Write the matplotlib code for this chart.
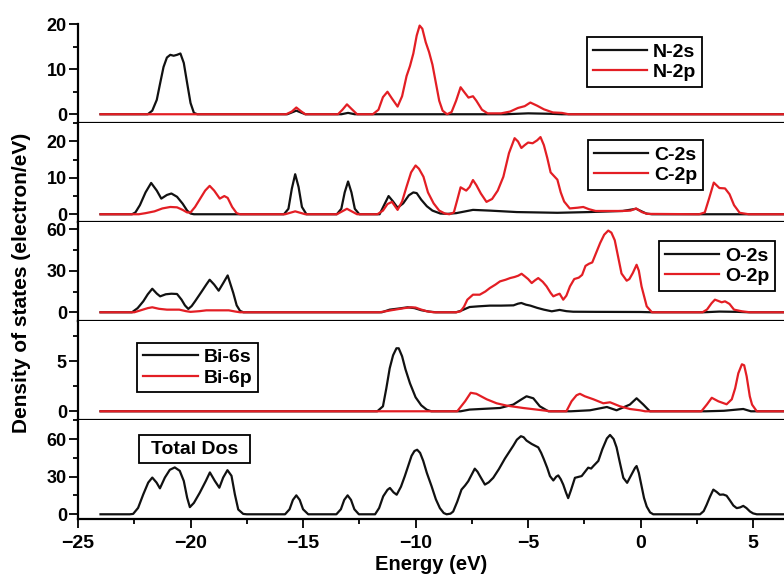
import matplotlib
matplotlib.use('Agg')
import matplotlib.pyplot as plt
from matplotlib.patches import Rectangle
from matplotlib.ticker import MultipleLocator

plt.rcParams['font.family'] = ['Liberation Sans', 'DejaVu Sans']
plt.rcParams['font.weight'] = 'bold'

BLACK = '#111111'
RED = '#e31e24'

# ---- N partial DOS ----
n2s_e = [-24.0, -21.9, -21.7, -21.5, -21.35, -21.2, -21.05, -20.9, -20.75, -20.6, -20.45, -20.3, -20.15,
         -20.0, -19.85, -19.7, -15.7, -15.3, -14.9, -13.3, -13.0, -12.7, -6.0, -5.0, -4.0, -3.5, 7.0]
n2s_v = [0, 0, 0.8, 3.2, 6.9, 10.5, 12.6, 13.2, 13.0, 13.2, 13.5, 11.4, 6.9,
         2.5, 0.3, 0, 0, 0.8, 0, 0, 0.3, 0, 0, 0.2, 0.1, 0, 0]

n2p_e = [-24.0, -15.75, -15.5, -15.3, -15.1, -14.9, -13.45, -13.25, -13.05, -12.85, -12.6, -11.9, -11.65,
         -11.45, -11.25, -11.05, -10.8, -10.6, -10.4, -10.25, -10.1, -9.95, -9.82, -9.7, -9.55, -9.4,
         -9.25, -9.1, -8.95, -8.8, -8.6, -8.4, -8.2, -8.0, -7.85, -7.65, -7.45, -7.3, -7.05, -6.8, -6.2,
         -5.8, -5.45, -5.15, -4.9, -4.6, -4.3, -3.9, -3.5, -3.2, 7.0]
n2p_v = [0, 0, 0.6, 1.5, 0.7, 0, 0, 1.0, 2.2, 1.2, 0, 0, 1.0,
         3.8, 5.0, 3.5, 1.7, 4.0, 8.5, 10.7, 13.5, 17.5, 19.7, 19.0, 16.0, 13.8,
         11.0, 7.0, 3.0, 0.8, 0, 0.5, 3.0, 6.0, 5.0, 3.7, 4.0, 3.0, 1.0, 0.2, 0.2,
         0.6, 1.4, 1.8, 2.6, 1.9, 1.1, 0.4, 0.3, 0, 0]

# ---- C partial DOS ----
c2s_e = [-24.0, -22.6, -22.45, -22.25, -22.0, -21.75, -21.5, -21.3, -21.05, -20.85, -20.6, -20.35, -20.15,
         -20.0, -19.85, -15.85, -15.65, -15.5, -15.35, -15.2, -15.05, -14.85, -13.5, -13.3, -13.15, -13.0,
         -12.85, -12.7, -12.5, -11.6, -11.4, -11.2, -11.0, -10.8, -10.55, -10.3, -10.1, -9.95, -9.75,
         -9.5, -9.25, -8.9, -8.6, -8.2, -7.45, -6.7, -5.5, -3.7, -2.3, -0.8, -0.2, 0.25, 0.5, 7.0]
c2s_v = [0, 0, 0.5, 2.5, 6.0, 8.6, 6.5, 4.3, 5.3, 5.7, 4.8, 2.9, 1.0,
         0.2, 0, 0, 1.5, 7.0, 11.0, 7.5, 2.0, 0, 0, 1.5, 6.0, 9.0,
         6.0, 1.5, 0, 0, 2.5, 5.0, 3.5, 1.8, 3.0, 5.2, 6.0, 5.8, 4.0,
         2.2, 1.0, 0.2, 0.1, 0.3, 1.2, 1.0, 0.6, 0.4, 0.6, 0.9, 1.5, 0.2, 0, 0]

c2p_e = [-24.0, -22.3, -22.0, -21.6, -21.25, -20.9, -20.6, -20.35, -20.15, -20.0, -19.8, -19.6, -19.35,
         -19.15, -18.95, -18.7, -18.5, -18.35, -18.15, -17.95, -17.8, -15.8, -15.35, -14.9, -13.5, -13.05,
         -12.6, -11.7, -11.45, -11.25, -11.05, -10.8, -10.6, -10.4, -10.2, -10.0, -9.85, -9.65, -9.45,
         -9.2, -8.95, -8.7, -8.5, -8.3, -8.15, -8.0, -7.75, -7.6, -7.45, -7.3, -7.1, -6.85, -6.6, -6.35,
         -6.1, -5.85, -5.6, -5.45, -5.3, -5.15, -5.0, -4.8, -4.6, -4.45, -4.3, -4.15, -4.0, -3.85, -3.7,
         -3.55, -3.4, -3.15, -2.8, -2.55, -2.3, -2.0, -1.4, -0.8, -0.45, -0.2, 0.05, 0.3, 2.6, 2.85,
         3.05, 3.25, 3.5, 3.75, 3.95, 4.15, 4.4, 4.8, 7.0]
c2p_v = [0, 0, 0.3, 0.8, 1.6, 2.0, 1.9, 1.2, 0.5, 0.5, 2.0, 4.0, 6.5,
         7.8, 6.5, 4.3, 5.0, 4.5, 2.0, 0.3, 0, 0, 0.8, 0, 0, 1.5,
         0, 0, 1.0, 2.8, 3.4, 1.2, 3.5, 7.6, 11.5, 13.4, 12.5, 10.3, 6.0,
         3.0, 1.0, 0.2, 0, 0.5, 3.9, 7.4, 6.5, 7.5, 9.4, 8.0, 5.7, 3.4, 4.2, 6.5,
         10.3, 16.8, 20.9, 20.0, 18.2, 19.0, 19.7, 19.5, 20.3, 21.2, 19.0, 15.5, 11.5, 10.5, 9.5,
         6.0, 3.5, 1.6, 1.8, 2.0, 1.4, 0.9, 0.9, 0.9, 1.0, 1.6, 0.6, 0.1, 0, 0.5,
         4.5, 8.7, 7.2, 7.1, 5.5, 2.5, 0.4, 0, 0]

# ---- O partial DOS ----
o2s_e = [-24.0, -22.6, -22.35, -22.1, -21.9, -21.7, -21.5, -21.35, -21.1, -20.85, -20.6, -20.4, -20.25,
         -20.1, -19.95, -19.8, -19.5, -19.3, -19.15, -18.95, -18.75, -18.55, -18.35, -18.2, -18.1, -17.95,
         -17.8, -17.65, -11.5, -11.15, -10.7, -10.35, -10.05, -9.75, -9.4, -9.1, -8.2, -8.0, -7.6, -7.2,
         -6.7, -6.2, -5.65, -5.45, -5.3, -5.1, -4.9, -4.6, -4.3, -3.95, -3.6, -3.3, -3.0, -2.0, 0.0, 0.5,
         2.8, 3.5, 4.3, 4.8, 7.0]
o2s_v = [0, 0, 3.0, 7.9, 13.0, 17.0, 13.5, 11.5, 13.0, 13.4, 13.2, 9.1, 5.0,
         2.4, 4.5, 7.9, 15.1, 20.0, 23.5, 20.0, 15.6, 21.0, 26.6, 19.0, 13.9, 5.0,
         1.0, 0, 0, 1.9, 2.8, 3.6, 3.0, 1.5, 0.5, 0, 0, 1.0, 3.8, 4.3,
         4.8, 4.8, 5.0, 6.2, 6.7, 5.5, 4.8, 3.2, 1.9, 0.7, 1.7, 0.8, 0.4, 0.3, 0.2, 0,
         0, 0.5, 0.3, 0, 0]

o2p_e = [-24.0, -22.5, -22.2, -21.9, -21.7, -21.4, -21.05, -20.5, -20.2, -20.0, -19.6, -19.3, -18.9,
         -18.3, -18.0, -17.8, -11.6, -11.3, -11.1, -10.8, -10.5, -10.2, -10.0, -9.8, -9.5, -9.2, -8.2,
         -8.0, -7.85, -7.7, -7.45, -7.15, -6.9, -6.7, -6.45, -6.25, -6.0, -5.8, -5.6, -5.44, -5.29, -5.15,
         -5.0, -4.84, -4.7, -4.55, -4.35, -4.18, -4.0, -3.88, -3.75, -3.6, -3.44, -3.3, -3.14, -2.95,
         -2.75, -2.6, -2.45, -2.3, -2.15, -1.95, -1.8, -1.62, -1.44, -1.3, -1.15, -1.0, -0.85, -0.62,
         -0.5, -0.35, -0.18, -0.08, 0.04, 0.27, 0.5, 2.75, 2.95, 3.15, 3.3, 3.45, 3.6, 3.75, 3.95, 4.15,
         4.5, 4.85, 7.0]
o2p_v = [0, 0, 1.5, 3.0, 3.6, 2.5, 1.9, 1.9, 0.8, 0.3, 0.8, 1.4, 1.4,
         1.4, 0.5, 0, 0, 0.8, 1.4, 2.2, 3.0, 3.6, 3.4, 2.2, 0.7, 0, 0,
         0.7, 4.0, 9.1, 12.7, 12.7, 15.0, 17.5, 20.0, 22.3, 23.5, 24.7, 25.5, 26.4, 27.8, 26.0,
         24.0, 21.1, 23.0, 24.7, 22.0, 18.7, 14.0, 11.5, 12.5, 13.4, 9.1, 12.0, 18.7, 24.0,
         25.0, 27.0, 33.5, 35.0, 36.0, 44.0, 50.0, 56.0, 59.0, 57.5, 52.0, 40.0, 28.0, 22.8,
         24.0, 28.3, 34.3, 30.0, 18.7, 4.3, 0, 0, 2.0, 6.5, 9.1, 8.2, 7.2, 7.9, 6.0, 1.9,
         0.7, 0, 0]

# ---- Bi partial DOS ----
bi6s_e = [-24.0, -11.7, -11.45, -11.3, -11.15, -11.0, -10.85, -10.75, -10.6, -10.45, -10.25, -10.0, -9.75,
          -9.5, -9.3, -8.0, -7.6, -6.25, -5.66, -5.29, -5.07, -4.77, -4.48, -4.1, -3.1, -2.25, -1.5,
          -1.07, -0.48, -0.18, 0.12, 0.41, 2.9, 3.7, 4.56, 4.9, 7.0]
bi6s_v = [0, 0, 0.5, 2.3, 4.3, 5.6, 6.3, 6.3, 5.5, 4.2, 2.8, 1.4, 0.6,
          0.15, 0, 0, 0.17, 0.33, 0.67, 1.2, 1.5, 1.3, 0.5, 0, 0, 0.1, 0.43,
          0.1, 0.67, 1.3, 0.67, 0, 0, 0.05, 0.23, 0, 0]

bi6p_e = [-24.0, -8.15, -7.8, -7.55, -7.3, -7.05, -6.84, -6.4, -5.96, -5.22, -4.62, -4.0, -3.3,
          -3.07, -2.85, -2.7, -2.48, -2.1, -1.66, -1.36, -0.92, -0.48, -0.03, 0.2, 2.7, 2.95, 3.16,
          3.45, 3.82, 4.05, 4.2, 4.34, 4.5, 4.6, 4.71, 4.85, 4.95, 5.16, 7.0]
bi6p_v = [0, 0, 1.0, 1.85, 1.75, 1.45, 1.2, 0.8, 0.57, 0.33, 0.17, 0, 0,
          1.0, 1.6, 1.75, 1.5, 1.2, 0.8, 0.9, 0.5, 0.23, 0.1, 0, 0, 0.7, 1.35,
          1.0, 0.7, 1.2, 2.3, 3.8, 4.7, 4.6, 3.5, 1.5, 0.67, 0, 0]

# ---- Total DOS ----
tot_e = [-24.0, -22.7, -22.55, -22.33, -22.1, -21.88, -21.7, -21.51, -21.36, -21.14, -20.92, -20.7, -20.48,
         -20.3, -20.15, -20.03, -19.85, -19.59, -19.32, -19.14, -18.92, -18.72, -18.55, -18.36, -18.18,
         -18.03, -17.88, -17.66, -17.5, -15.8, -15.6, -15.45, -15.3, -15.15, -15.0, -14.77, -13.52, -13.32,
         -13.17, -13.02, -12.87, -12.72, -12.52, -11.8, -11.62, -11.44, -11.25, -11.14, -10.98, -10.84,
         -10.65, -10.48, -10.3, -10.18, -10.05, -9.93, -9.8, -9.66, -9.5, -9.29, -9.1, -8.92, -8.75, -8.62,
         -8.45, -8.33, -8.15, -7.96, -7.8, -7.66, -7.5, -7.37, -7.25, -7.14, -6.92, -6.75, -6.55, -6.3,
         -6.03, -5.85, -5.66, -5.5, -5.32, -5.2, -5.07, -4.84, -4.55, -4.42, -4.3, -4.15, -4.03, -3.88,
         -3.75, -3.66, -3.55, -3.44, -3.32, -3.22, -3.1, -2.92, -2.62, -2.45, -2.33, -2.2, -2.1, -1.88,
         -1.7, -1.5, -1.36, -1.2, -1.07, -0.92, -0.77, -0.6, -0.4, -0.25, -0.18, -0.08, 0.04, 0.15, 0.27,
         0.42, 0.56, 2.64, 2.8, 2.93, 3.08, 3.23, 3.38, 3.52, 3.67, 3.82, 3.97, 4.12, 4.27, 4.42, 4.56,
         4.7, 4.86, 5.0, 5.16, 7.0]
tot_v = [0, 0, 0.3, 5.1, 15.9, 25.3, 29.3, 25.3, 20.7, 29.3, 35.5, 37.4, 34.7,
         26.6, 13.2, 5.7, 9.1, 17.2, 26.6, 33.4, 26.6, 21.2, 29.3, 35.2, 30.7,
         15.9, 3.8, 0.3, 0, 0, 4.0, 11.5, 15.1, 11.5, 4.0, 0, 0, 4.0,
         11.5, 15.1, 11.5, 4.0, 0, 0, 5.0, 14.3, 19.5, 21.0, 17.5, 15.6,
         22.0, 30.4, 40.0, 46.6, 50.5, 51.5, 49.0, 42.6, 33.0, 22.4, 12.0, 4.9, 1.0, 0,
         0.5, 2.2, 10.0, 19.7, 23.0, 26.4, 32.0, 36.4, 34.0, 30.5, 23.7, 25.5, 29.1, 36.0,
         44.5, 49.5, 54.7, 59.5, 62.3, 61.5, 58.8, 56.1, 53.4, 49.0, 43.9, 37.0, 30.5, 27.0,
         30.0, 31.0, 28.0, 23.7, 17.5, 12.9, 19.0, 29.1, 30.5, 34.5, 37.2, 36.5, 38.5, 42.6,
         52.0, 60.5, 63.3, 60.0, 53.4, 41.0, 29.1, 25.1, 31.8, 37.0, 38.5, 33.0, 22.4, 13.0, 6.2,
         1.5, 0, 0, 2.5, 7.5, 14.0, 19.7, 17.8, 15.6, 15.8, 14.8, 11.0, 7.0, 4.9, 5.5, 6.7,
         5.0, 2.2, 0.7, 0, 0]

panels = [
    ([(n2s_e, n2s_v, 'N-2s', BLACK), (n2p_e, n2p_v, 'N-2p', RED)], (-2, 20), 10, 5, (0.721, 0.869)),
    ([(c2s_e, c2s_v, 'C-2s', BLACK), (c2p_e, c2p_v, 'C-2p', RED)], (-2.2, 25), 10, 5, (0.722, 0.828)),
    ([(o2s_e, o2s_v, 'O-2s', BLACK), (o2p_e, o2p_v, 'O-2p', RED)], (-6.5, 65), 30, 15, (0.823, 0.809)),
    ([(bi6s_e, bi6s_v, 'Bi-6s', BLACK), (bi6p_e, bi6p_v, 'Bi-6p', RED)], (-0.9, 9), 5, 2.5, (0.084, 0.785)),
    ([(tot_e, tot_v, None, BLACK)], (-4, 75), 30, 15, None),
]

fig, axes = plt.subplots(5, 1, sharex=True, figsize=(7.84, 5.77), dpi=100)
fig.subplots_adjust(left=0.0995, right=1.0, top=0.958, bottom=0.100, hspace=0)

for ax, (series, ylim, major, minor, leg_pos) in zip(axes, panels):
    for e, v, label, color in series:
        ax.plot(e, v, color=color, lw=1.6, label=label)
    ax.set_xlim(-25, 6.37)
    ax.set_ylim(*ylim)
    ax.yaxis.set_major_locator(MultipleLocator(major))
    ax.yaxis.set_minor_locator(MultipleLocator(minor))
    ax.xaxis.set_major_locator(MultipleLocator(5))
    ax.xaxis.set_minor_locator(MultipleLocator(2.5))
    ax.spines['top'].set_visible(False)
    ax.spines['right'].set_visible(False)
    ax.spines['left'].set_linewidth(1.6)
    ax.spines['bottom'].set_linewidth(1.6)
    ax.tick_params(which='major', direction='out', length=6.5, width=1.3)
    ax.tick_params(which='minor', direction='out', length=3.5, width=1.3)
    ax.tick_params(axis='y', pad=1.5, labelsize=13)
    ax.tick_params(axis='x', pad=5, labelsize=14)
    if leg_pos is not None:
        leg = ax.legend(loc='upper left', bbox_to_anchor=leg_pos, borderaxespad=0,
                        fancybox=False, edgecolor='black', framealpha=1,
                        handlelength=2.8, handletextpad=0.3, borderpad=0.3,
                        labelspacing=0.15, prop={'weight': 'bold', 'size': 14})
        leg.get_frame().set_linewidth(1.3)

# "Total Dos" label box in the bottom panel
ax5 = axes[4]
ax5.add_patch(Rectangle((0.0864, 0.573), 0.157, 0.274, transform=ax5.transAxes,
                        facecolor='white', edgecolor='black', lw=1.3, zorder=4))
ax5.text(0.165, 0.71, 'Total Dos', transform=ax5.transAxes, ha='center', va='center',
         fontsize=14, fontweight='bold', zorder=5)

fig.text(0.027, 0.509, 'Density of states (electron/eV)', rotation=90, ha='center', va='center',
         fontsize=15, fontweight='bold')
fig.text(0.55, 0.021, 'Energy (eV)', ha='center', va='center', fontsize=14.5, fontweight='bold')

fig.savefig('out.png', dpi=100)
